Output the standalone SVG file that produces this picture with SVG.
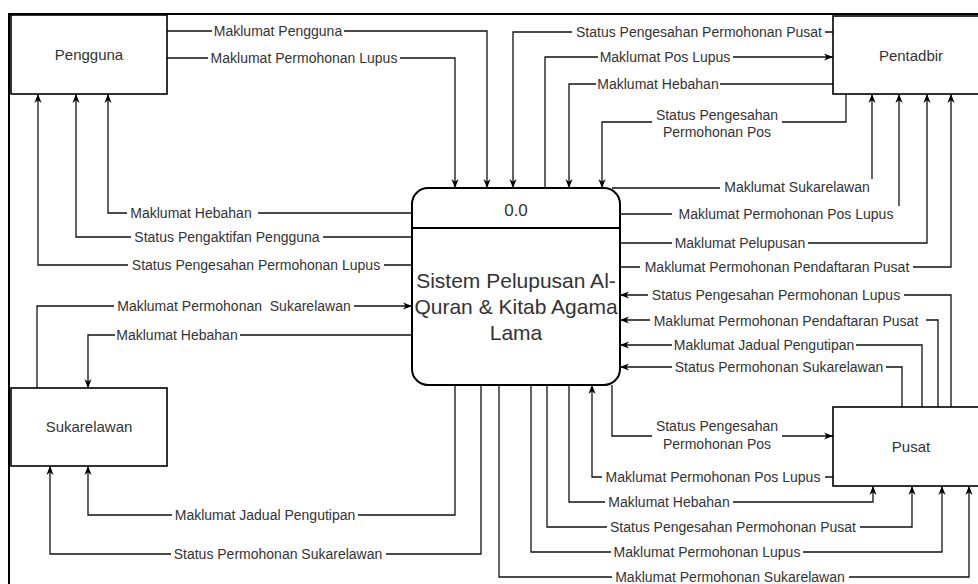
<svg xmlns="http://www.w3.org/2000/svg" width="978" height="584" viewBox="0 0 978 584">
<defs>
<marker id="arr" viewBox="0 0 10 10" refX="10" refY="5" markerWidth="9" markerHeight="9" markerUnits="userSpaceOnUse" orient="auto">
<path d="M0,1 L10,5 L0,9 L3,5 Z" fill="#000"/>
</marker>
<style>
.box{fill:#fff;stroke:#000;stroke-width:1.6}
.proc{fill:#fff;stroke:#000;stroke-width:2}
.frame{fill:none;stroke:#000;stroke-width:2}
.ent{font-family:"Liberation Sans",Arial,sans-serif;font-size:15px;fill:#333;text-anchor:middle}
.ptxt{font-family:"Liberation Sans",Arial,sans-serif;font-size:21px;fill:#333;text-anchor:middle}
.ptop{font-family:"Liberation Sans",Arial,sans-serif;font-size:17px;fill:#333;text-anchor:middle}
.c{fill:none;stroke:#111;stroke-width:1.3}
.a{marker-end:url(#arr)}
.lb{fill:#fff;stroke:none}
.lt{font-family:"Liberation Sans",Arial,sans-serif;font-size:14px;fill:#333;text-anchor:middle;white-space:pre}
</style>
</defs>
<rect x="0" y="0" width="978" height="584" fill="#fff"/>
<rect class="frame" x="9" y="14" width="1000" height="600"/>

<g id="connectors">
<path class="c a" d="M167,31 H487 V188"/>
<path class="c a" d="M167,58 H455 V188"/>
<path class="c a" d="M412,213 H108 V94"/>
<path class="c a" d="M412,237 H76 V94"/>
<path class="c a" d="M412,265 H38 V94"/>
<path class="c a" d="M37,388 V306 H412"/>
<path class="c a" d="M412,335 H88 V388"/>
<path class="c a" d="M455,385 V515 H88 V466"/>
<path class="c a" d="M481,385 V554 H50 V466"/>
<path class="c a" d="M833,32 H513 V188"/>
<path class="c a" d="M540,188 H545 V57 H833"/>
<path class="c a" d="M833,84 H569 V188"/>
<path class="c a" d="M846,94 V122 H602 V188"/>
<path class="c a" d="M612,188 H872 V94"/>
<path class="c a" d="M620,214 H899 V94"/>
<path class="c a" d="M620,243 H927 V94"/>
<path class="c a" d="M620,267 H951 V94"/>
<path class="c a" d="M951,407 V295 H620"/>
<path class="c a" d="M938,407 V320 H620"/>
<path class="c a" d="M922,407 V345 H620"/>
<path class="c a" d="M902,407 V367 H620"/>
<path class="c a" d="M612,385 V436 H833"/>
<path class="c a" d="M833,477 H592 V385"/>
<path class="c a" d="M569,385 V502 H873 V486"/>
<path class="c a" d="M547,385 V527 H912 V486"/>
<path class="c a" d="M531,385 V552 H942 V486"/>
<path class="c a" d="M499,385 V577 H969 V486"/>

<g id="labels">
<rect class="lb" x="212" y="23" width="132" height="16"/><text class="lt" x="278" y="36">Maklumat Pengguna</text>
<rect class="lb" x="208" y="50" width="192" height="16"/><text class="lt" x="304" y="63">Maklumat Permohonan Lupus</text>
<rect class="lb" x="127" y="205" width="131" height="16"/><text class="lt" x="191" y="218">Maklumat Hebahan</text>
<rect class="lb" x="131" y="229" width="192" height="16"/><text class="lt" x="227" y="242">Status Pengaktifan Pengguna</text>
<rect class="lb" x="128" y="257" width="256" height="16"/><text class="lt" x="256" y="270">Status Pengesahan Permohonan Lupus</text>
<rect class="lb" x="114" y="298" width="240" height="16"/><text class="lt" x="234" y="311">Maklumat Permohonan  Sukarelawan</text>
<rect class="lb" x="115" y="327" width="125" height="16"/><text class="lt" x="177" y="340">Maklumat Hebahan</text>
<rect class="lb" x="172" y="507" width="186" height="16"/><text class="lt" x="265" y="520">Maklumat Jadual Pengutipan</text>
<rect class="lb" x="171" y="546" width="215" height="16"/><text class="lt" x="278" y="559">Status Permohonan Sukarelawan</text>
<rect class="lb" x="572" y="24" width="253" height="16"/><text class="lt" x="699" y="37">Status Pengesahan Permohonan Pusat</text>
<rect class="lb" x="598" y="49" width="135" height="16"/><text class="lt" x="665" y="62">Maklumat Pos Lupus</text>
<rect class="lb" x="596" y="76" width="124" height="16"/><text class="lt" x="658" y="89">Maklumat Hebahan</text>
<rect class="lb" x="652" y="106" width="130" height="34"/><text class="lt" x="717" y="120">Status Pengesahan</text><text class="lt" x="717" y="137">Permohonan Pos</text>
<rect class="lb" x="720" y="179" width="153" height="16"/><text class="lt" x="797" y="192">Maklumat Sukarelawan</text>
<rect class="lb" x="672" y="206" width="228" height="16"/><text class="lt" x="786" y="219">Maklumat Permohonan Pos Lupus</text>
<rect class="lb" x="672" y="235" width="136" height="16"/><text class="lt" x="740" y="248">Maklumat Pelupusan</text>
<rect class="lb" x="640" y="259" width="273" height="16"/><text class="lt" x="777" y="272">Maklumat Permohonan Pendaftaran Pusat</text>
<rect class="lb" x="648" y="287" width="256" height="16"/><text class="lt" x="776" y="300">Status Pengesahan Permohonan Lupus</text>
<rect class="lb" x="650" y="312" width="276" height="16"/><text class="lt" x="786" y="326">Maklumat Permohonan Pendaftaran Pusat</text>
<rect class="lb" x="672" y="337" width="184" height="16"/><text class="lt" x="764" y="350">Maklumat Jadual Pengutipan</text>
<rect class="lb" x="672" y="359" width="214" height="16"/><text class="lt" x="779" y="372">Status Permohonan Sukarelawan</text>
<rect class="lb" x="652" y="417" width="130" height="35"/><text class="lt" x="717" y="431">Status Pengesahan</text><text class="lt" x="717" y="449">Permohonan Pos</text>
<rect class="lb" x="602" y="469" width="223" height="16"/><text class="lt" x="713" y="482">Maklumat Permohonan Pos Lupus</text>
<rect class="lb" x="605" y="494" width="128" height="16"/><text class="lt" x="669" y="507">Maklumat Hebahan</text>
<rect class="lb" x="607" y="519" width="253" height="16"/><text class="lt" x="733" y="532">Status Pengesahan Permohonan Pusat</text>
<rect class="lb" x="611" y="544" width="192" height="16"/><text class="lt" x="707" y="557">Maklumat Permohonan Lupus</text>
<rect class="lb" x="612" y="569" width="237" height="16"/><text class="lt" x="730" y="582">Maklumat Permohonan Sukarelawan</text>
</g>
</g>

<g id="pengguna">
<rect class="box" x="11" y="15" width="156" height="79"/>
<text class="ent" x="89" y="60">Pengguna</text>
</g>
<g id="pentadbir">
<rect class="box" x="833" y="16" width="160" height="78"/>
<text class="ent" x="911" y="61">Pentadbir</text>
</g>
<g id="sukarelawan">
<rect class="box" x="11" y="388" width="156" height="78"/>
<text class="ent" x="89" y="432">Sukarelawan</text>
</g>
<g id="pusat">
<rect class="box" x="833" y="407" width="160" height="79"/>
<text class="ent" x="911" y="452">Pusat</text>
</g>
<g id="process">
<rect class="proc" x="412" y="188" width="208" height="197" rx="16" ry="16"/>
<line x1="412" y1="228" x2="620" y2="228" stroke="#000" stroke-width="2"/>
<text class="ptop" x="516" y="216">0.0</text>
<text class="ptxt" x="516" y="288">Sistem Pelupusan Al-</text>
<text class="ptxt" x="516" y="314">Quran &amp; Kitab Agama</text>
<text class="ptxt" x="516" y="340">Lama</text>
</g>
</svg>
